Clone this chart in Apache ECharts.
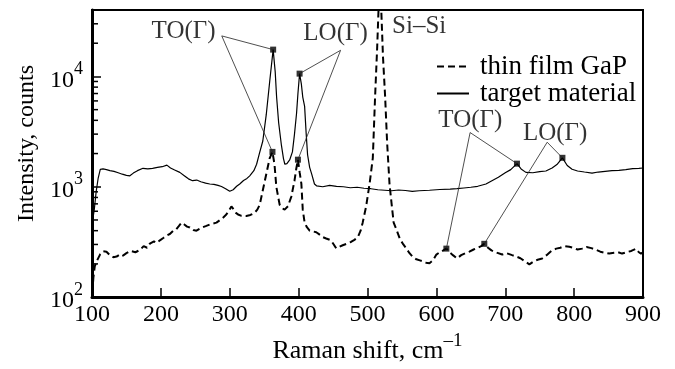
<!DOCTYPE html>
<html><head><meta charset="utf-8">
<script src="https://cdn.jsdelivr.net/npm/echarts@6/dist/echarts.min.js"></script>
<style>html,body{margin:0;padding:0;background:#fff}#c{width:675px;height:369px}</style>
</head><body><div id="c"></div>
<script>
// Raman shift (cm^-1), intensity (counts)
const targetMaterial = [
 [101,500],[103.3,620],[106,900],[109,1200],[112,1440],[116,1450],[121,1430],[126,1400],[132,1380],[138,1340],
 [144,1300],[150,1270],[155,1256],[160,1330],[166,1400],[174,1470],[181,1450],[188,1470],[195,1500],[202,1520],
 [208.7,1570],[214,1480],[220,1420],[227.5,1350],[234,1260],[240,1180],[246,1135],[252,1150],[258,1110],[265,1080],
 [271,1060],[277,1050],[283,1030],[288,1005],[294,960],[300,910],[305,940],[310,1010],[314.5,1060],[320,1140],
 [325,1190],[329,1256],[335,1400],[339,1600],[343,2000],[348,2600],[353,4500],[358,9000],[363,17500],[366,11000],
 [368,6550],[371,3800],[375,2380],[378,1800],[380,1600],[383,1620],[387,1750],[391,2070],[394,3000],[397,4640],
 [399,7000],[401.4,10600],[404,8500],[406,6500],[408.7,5350],[411,3000],[413,1950],[416,1500],[419,1300],[423,1060],
 [426,1020],[435,1000],[445,1030],[455,1010],[465,1000],[475,980],[485,990],[495,970],[505,960],[515,940],
 [525,930],[535,920],[545,935],[555,925],[565,910],[575,920],[590,930],[605,945],[620,950],[630,960],
 [640,975],[650,990],[660,1010],[672,1060],[680,1130],[690,1220],[700,1340],[708,1430],[717,1620],[723,1450],
 [730,1350],[740,1340],[750,1370],[759,1390],[768,1480],[775,1590],[783,1830],[790,1560],[797,1440],[805,1390],
 [815,1360],[826,1330],[835,1360],[845,1380],[855,1400],[865,1410],[875,1430],[885,1460],[894,1470],[900,1480]
];
const thinFilmGaP = [
 [100.5,110],[102,150],[104,190],[106.8,211],[112,245],[116,260],[121,258],[126,240],[131,230],[135.7,233],
 [141,245],[145,238],[150,250],[156,262],[163,255],[169.6,267],[175,290],[180,280],[184,305],[190,320],
 [194,310],[198.6,327],[204,345],[208,360],[213,373],[218,400],[222,410],[226,440],[230,473],[234,455],
 [238,435],[242,428],[247,405],[251.7,400],[256,415],[261,430],[266,442],[271,455],[276,465],[280.7,473],
 [286,500],[291,530],[295,560],[299,610],[302.4,664],[306,620],[309,580],[312,560],[317,545],[324,543],
 [330,555],[336,580],[340,620],[343.5,686],[348,930],[353,1300],[358,1820],[362,2070],[365,1590],[367.6,1000],
 [370,830],[372.5,686],[376,640],[379.7,620],[384.5,665],[389.4,815],[394,1135],[396.5,1450],[399,1760],[401.5,1350],
 [404,1060],[406,620],[408.7,473],[412,430],[416,400],[420,395],[425.6,387],[430,370],[435,350],[440,340],
 [447,327],[451,300],[454.6,276],[459,285],[464,295],[470,305],[476,316],[481,330],[486,350],[490,400],
 [493,473],[498,664],[503,1060],[507.7,1820],[511,6500],[514,18000],[516,40000],[518,90000],[520,40000],[522.5,15000],
 [525.6,6550],[528.5,2500],[532,1050],[535,700],[538,473],[542,410],[547,337],[552,300],[556.5,275],[561,250],
 [566,230],[571,220],[576,215],[581,210],[585,205],[590,203],[595,215],[600,243],[605,255],[610,265],
 [614.5,275],[619,255],[624,240],[630,224],[636,240],[642,250],[648,258],[654,270],[660,280],[665,290],
 [669.6,304],[675,280],[680,265],[686,255],[695.6,243],[702,250],[710,240],[716,233],[722,225],[729,210],
 [735,198],[741,210],[747,218],[753.6,224],[760,240],[767,262],[774,275],[780,280],[786,290],[793,286],
 [799,280],[805,270],[811.6,275],[818,285],[825,278],[832,268],[838,258],[845,252],[851,248],[858,252],
 [864,255],[869.6,248],[876,255],[883,262],[889.9,275],[894,255],[897,248],[900,255]
];
const yMinorTicks = [200,300,400,500,600,700,800,900,2000,3000,4000,5000,6000,7000,8000,9000,20000,30000];
const peakMarkers = [[363,17500],[362,2070],[401.4,10600],[399,1760],[717,1620],[614.5,275],[783,1830],[669.6,304]];
const annotationLabels = [
 {text:'TO(Γ)', x:233, y:25800},
 {text:'LO(Γ)', x:453.6, y:24300},
 {text:'Si–Si', x:575, y:28600},
 {text:'TO(Γ)', x:649.3, y:4030},
 {text:'LO(Γ)', x:772.5, y:3035}
];
const annotationArrows = [
 [[288.4,23300],[363,17500]], [[288.4,23300],[362,2070]],
 [[460.9,17250],[401.4,10600]], [[460.9,17250],[399,1760]],
 [[649,3100],[717,1620]], [[649,3100],[614.5,275]],
 [[760.9,2533],[783,1830]], [[760.9,2533],[669.6,304]]
];

const F = "'Liberation Serif', 'Times New Roman', 'DejaVu Serif', serif";
const chart = echarts.init(document.getElementById('c'), null, {renderer:'canvas'});
const supRich = {
  b:{fontFamily:F, fontSize:24, color:'#000', lineHeight:32, verticalAlign:'bottom'},
  s:{fontFamily:F, fontSize:18, color:'#000', lineHeight:18, verticalAlign:'top'}
};
const option = {
  animation:false,
  backgroundColor:'#fff',
  textStyle:{fontFamily:F},
  grid:{left:92, right:32, top:10, bottom:62, show:true, borderColor:'#000', borderWidth:2, backgroundColor:'transparent'},
  legend:{
    data:['thin film GaP','target material'], orient:'vertical', left:436, top:53, padding:0,
    itemWidth:32, itemHeight:10, itemGap:0,
    itemStyle:{opacity:0},
    textStyle:{fontFamily:F, fontSize:27, color:'#000', lineHeight:21, padding:[0,0,0,6]}
  },
  xAxis:{
    type:'value', min:100, max:900, interval:100,
    axisLine:{lineStyle:{color:'#000', width:3}},
    axisTick:{inside:true, length:9, lineStyle:{color:'#000', width:1.5}},
    axisLabel:{fontFamily:F, fontSize:24, color:'#000', margin:6},
    splitLine:{show:false},
    name:'{b|Raman shift, cm}{s|–1}', nameLocation:'middle', nameGap:27,
    nameTextStyle:{fontFamily:F, rich:{
      b:{fontFamily:F, fontSize:26, color:'#000', lineHeight:32, verticalAlign:'bottom'},
      s:{fontFamily:F, fontSize:19, color:'#000', lineHeight:19, verticalAlign:'top'}
    }}
  },
  yAxis:{
    type:'log', logBase:10, min:100, max:40000,
    axisLine:{lineStyle:{color:'#000', width:3}},
    axisTick:{inside:true, length:9, lineStyle:{color:'#000', width:1.5}},
    minorTick:{show:false},
    axisLabel:{
      margin:9, showMaxLabel:false, fontFamily:F,
      formatter:function(v){ const e=Math.log10(v); if(Math.abs(e-Math.round(e))>1e-6) return ''; return '{b|10}{s|'+Math.round(e)+'}'; },
      rich:supRich
    },
    splitLine:{show:false},
    name:'Intensity, counts', nameLocation:'middle', nameGap:52,
    nameTextStyle:{fontFamily:F, fontSize:24, color:'#000', padding:[0,0,0,20]}
  },
  series:[
    {name:'thin film GaP', type:'line', data:thinFilmGaP, symbol:'none', clip:true,
     lineStyle:{color:'#000', width:2, type:[7,4]}, itemStyle:{color:'#000'}, z:3},
    {name:'target material', type:'line', data:targetMaterial, symbol:'none', clip:true,
     lineStyle:{color:'#000', width:1.2}, itemStyle:{color:'#000'}, z:3},
    {name:'peaks', type:'scatter', data:peakMarkers, symbol:'rect', symbolSize:6,
     itemStyle:{color:'#000'}, z:4, silent:true},
    {name:'annotations', type:'scatter', silent:true, symbolSize:0,
     data:annotationLabels.map(a=>({value:[a.x,a.y], name:a.text})),
     label:{show:true, position:'inside', formatter:'{b}', fontFamily:F, fontSize:25, color:'#000'},
     markLine:{silent:true, animation:false, symbol:['none','arrow'], symbolSize:[0,7],
       lineStyle:{color:'#222', width:0.8, type:'solid'}, label:{show:false},
       data:annotationArrows.map(p=>[{coord:p[0]},{coord:p[1]}])}},
    {name:'minorTicks', type:'custom', silent:true, z:5,
     data:yMinorTicks.map(v=>[100,v]),
     renderItem:function(params, api){
       const p = api.coord([api.value(0), api.value(1)]);
       return {type:'line', shape:{x1:p[0]+1, y1:p[1], x2:p[0]+6, y2:p[1]}, style:{stroke:'#000', lineWidth:1.5}};
     }}
  ]
};
chart.setOption(option);
</script></body></html>
